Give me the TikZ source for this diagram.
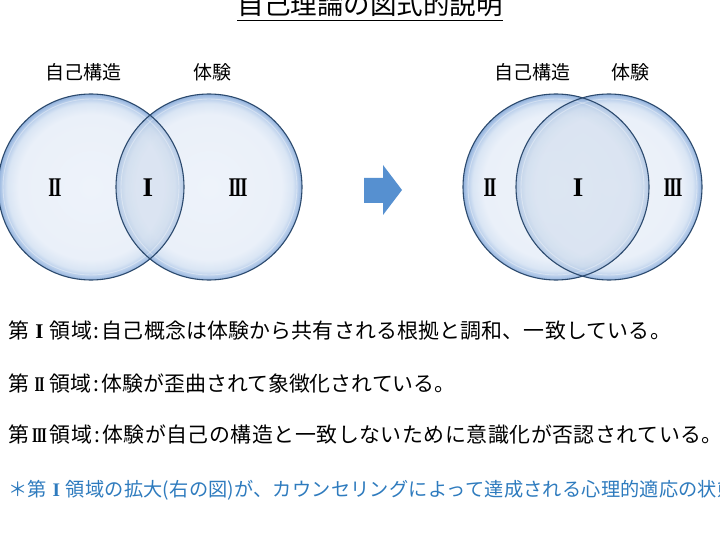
\documentclass[tikz,border=0pt]{standalone}
\usepackage{fontspec}
\setmainfont{Noto Sans CJK JP}
\newfontfamily\numfont{Liberation Serif}
\definecolor{bIn}{HTML}{EEF3FA}
\definecolor{bIn2}{HTML}{EAF0F9}
\definecolor{bMid}{HTML}{D9E5F4}
\definecolor{bRim}{HTML}{B0C8E8}
\definecolor{bEdge}{HTML}{90B0DB}
\definecolor{outl}{HTML}{2C4A6E}
\definecolor{lens}{HTML}{6F94C0}
\definecolor{arrowblue}{HTML}{5690D0}
\definecolor{notecol}{HTML}{2E7BBE}
\pgfdeclareradialshading{bubble}{\pgfpoint{0bp}{0bp}}{color(0bp)=(bIn); color(19.5bp)=(bIn2); color(22.5bp)=(bMid); color(24.2bp)=(bRim); color(25bp)=(bEdge); color(50bp)=(bEdge)}
\newcommand{\RI}{I}
\newcommand{\RII}{\scalebox{0.68}[1]{I\kern-0.07em I}}
\newcommand{\RIII}{\scalebox{0.68}[1]{I\kern-0.07em I\kern-0.07em I}}
\newcommand{\bn}[1]{\makebox[1em]{\numfont\bfseries #1}}
\newcommand{\cln}{\kern2pt:\kern2pt}
\tikzset{
  bub/.style={shading=bubble},
  outline/.style={draw=outl, line width=1.1pt},
  glare/.style={draw=white, line width=0.9pt, opacity=0.35},
  lbl/.style={inner sep=0pt, font=\fontsize{19}{20}\selectfont},
  num/.style={inner sep=0pt, font=\numfont\bfseries\fontsize{27}{28}\selectfont},
  body/.style={inner sep=0pt, anchor=west, font=\fontsize{20.9}{22}\selectfont},
  note/.style={inner sep=0pt, anchor=west, text=notecol, font=\fontsize{19.2}{20}\selectfont},
}
\newcommand{\venn}[3]{%
  \shade[bub] (#1) circle (#3);
  \shade[bub] (#2) circle (#3);
  \begin{scope}
    \clip (#2) circle (#3);
    \shade[bub, opacity=0.5] (#1) circle (#3);
    \fill[lens, opacity=0.12] (#1) circle (#3);
  \end{scope}
  \draw[glare] (#1) circle (#3-5);
  \draw[glare] (#2) circle (#3-5);
  \draw[outline] (#1) circle (#3);
  \draw[outline] (#2) circle (#3);
}
\begin{document}
\begin{tikzpicture}[x=1pt,y=-1pt]
\useasboundingbox[fill=white] (0,0) rectangle (720,540);
% title
\node[inner sep=0pt, anchor=base, font=\fontsize{26.5}{28}\selectfont] (title) at (370,15) {自己理論の図式的説明};
\draw[line width=1.4pt] ([yshift=-5.5pt]title.base west) -- ([yshift=-5.5pt]title.base east);
% left figure
\coordinate (LA) at (91,187);
\coordinate (LB) at (209,187);
\venn{LA}{LB}{93}
\node[lbl] (lself) at (83,72) {自己構造};
\node[lbl] (lexp) at (212,72) {体験};
\node[num] (l2) at (55,188) {\RII};
\node[num] (l1) at (148,188) {\RI};
\node[num] (l3) at (238,188) {\RIII};
% arrow
\fill[arrowblue] (364,178) -- (383,178) -- (383,165) -- (402,190) -- (383,215) -- (383,203) -- (364,203) -- cycle;
% right figure
\coordinate (RA) at (556,187);
\coordinate (RB) at (609,187);
\venn{RA}{RB}{93}
\node[lbl] (rself) at (532,72) {自己構造};
\node[lbl] (rexp) at (630,72) {体験};
\node[num] (r2) at (490,188) {\RII};
\node[num] (r1) at (578,188) {\RI};
\node[num] (r3) at (673,188) {\RIII};
% text
\node[body] (t1) at (8,331) {\addfontfeature{LetterSpace=1}第\bn{\RI}領域\cln 自己概念は体験から共有される根拠と調和、一致している。};
\node[body] (t2) at (8,384) {第\bn{\RII}領域\cln 体験が歪曲されて象徴化されている。};
\node[body] (t3) at (8,435) {\addfontfeature{LetterSpace=2.6}第\bn{\RIII}領域\cln 体験が自己の構造と一致しないために意識化が否認されている。};
\node[note] (t4) at (8,490) {\addfontfeature{LetterSpace=1}＊第\bn{\RI}領域の拡大(右の図)が、カウンセリングによって達成される心理的適応の状態};
\end{tikzpicture}
\end{document}
